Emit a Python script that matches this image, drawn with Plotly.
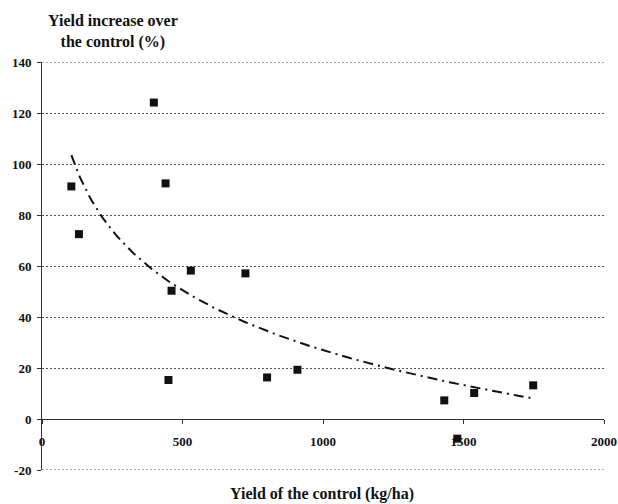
import numpy as np
import plotly.graph_objects as go

# Data
control_yield = [104.5, 131.5, 398, 439.7, 461, 450, 529.6, 724, 801, 909,
                 1431.6, 1478, 1538, 1748]
yield_increase = [91.2, 72.5, 124.1, 92.4, 50.3, 15.3, 58.2, 57.1, 16.3, 19.3,
                  7.3, -7.7, 10.2, 13.2]
x_ticks = [0, 500, 1000, 1500, 2000]
y_ticks = [-20, 0, 20, 40, 60, 80, 100, 120, 140]

# Logarithmic trend line (least squares on ln x), as in the original
xs = np.array(control_yield)
ys = np.array(yield_increase)
b, a = np.polyfit(np.log(xs), ys, 1)
trend_x = np.linspace(xs.min(), xs.max(), 200)
trend_y = a + b * np.log(trend_x)

FONT = "Liberation Serif, Times New Roman, serif"
GRID = dict(color="#555555", width=1, dash="2px,2px")

fig = go.Figure()
fig.add_trace(go.Scatter(
    x=trend_x, y=trend_y, mode="lines",
    line=dict(color="#111111", width=2, dash="10px,5px,2px,5px"),
    hoverinfo="skip", showlegend=False))
fig.add_trace(go.Scatter(
    x=control_yield, y=yield_increase, mode="markers",
    marker=dict(symbol="square", size=8, color="#111111"),
    showlegend=False))

# dotted grid lines at the two range edges (plotly omits edge gridlines)
for yv in (y_ticks[0], y_ticks[-1]):
    fig.add_shape(type="line", xref="paper", yref="y", x0=0, x1=1, y0=yv, y1=yv,
                  line=GRID, layer="below")

fig.update_layout(
    width=618, height=504,
    margin=dict(l=42, r=14, t=62, b=34, autoexpand=False),
    paper_bgcolor="white", plot_bgcolor="white",
    font=dict(family=FONT, size=13, color="#111111"),
    xaxis=dict(
        range=[0, 2000], tickvals=x_ticks, ticktext=[str(v) for v in x_ticks],
        showgrid=False, zeroline=False, automargin=False,
        showline=True, linecolor="#333333", linewidth=1,
        ticks="outside", ticklen=4, tickcolor="#333333",
        anchor="free", position=0.125,
        tickfont=dict(family=FONT, size=13, color="#111111", weight="bold"),
        ticklabelstandoff=6,
    ),
    yaxis=dict(
        range=[-20, 140], tickvals=y_ticks, ticktext=[str(v) for v in y_ticks],
        showgrid=True, gridcolor=GRID["color"], griddash=GRID["dash"], gridwidth=1,
        zeroline=False, automargin=False,
        showline=True, linecolor="#333333", linewidth=1,
        ticks="outside", ticklen=4, tickcolor="#333333",
        tickfont=dict(family=FONT, size=13, color="#111111", weight="bold"),
        ticklabelstandoff=3,
    ),
    annotations=[
        dict(text="<b>Yield increase over<br>the control (%)</b>",
             xref="paper", yref="paper", x=(113 - 42) / 562, y=1 + (62 - 31) / 408,
             xanchor="center", yanchor="middle", showarrow=False,
             font=dict(family=FONT, size=16, color="#111111")),
        dict(text="<b>Yield of the control (kg/ha)</b>",
             xref="paper", yref="paper", x=(322 - 42) / 562, y=-(494 - 470) / 408,
             xanchor="center", yanchor="middle", showarrow=False,
             font=dict(family=FONT, size=16, color="#111111")),
    ],
)

fig.write_html("out.html", config={"displayModeBar": False},
               post_script="document.body.style.margin='0';document.body.style.overflow='hidden';")
